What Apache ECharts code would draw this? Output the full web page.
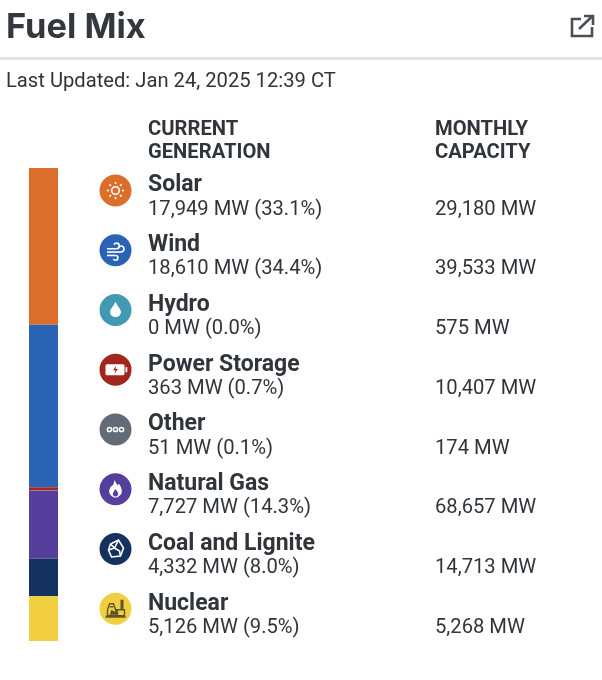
<!DOCTYPE html>
<html><head><meta charset="utf-8">
<style>html,body{margin:0;padding:0;background:#fff}#c{width:602px;height:680px}</style>
<script src="https://cdn.jsdelivr.net/npm/echarts@6/dist/echarts.min.js"></script>
</head><body><div id="c"></div>
<script>
const fuels=['Solar','Wind','Hydro','Power Storage','Other','Natural Gas','Coal and Lignite','Nuclear'];
const generation=[17949,18610,0,363,51,7727,4332,5126];
const percents=['33.1','34.4','0.0','0.7','0.1','14.3','8.0','9.5'];
const capacity=[29180,39533,575,10407,174,68657,14713,5268];
const colors=['#DB6E2A','#2A62B4','#4398B2','#A3261E','#626B76','#563F9C','#15315F','#F2CF40'];
const titleText='Fuel Mix';
const updatedText='Last Updated: Jan 24, 2025 12:39 CT';
const header1=['CURRENT','GENERATION'];
const header2=['MONTHLY','CAPACITY'];

const FONT='Roboto, sans-serif', DARK='#30353b';
const fmt=n=>n.toLocaleString('en-US');
const rowY=i=>190.5+i*59.75;
const g=[];
const txt=(x,y,t,size,weight,fill,font)=>g.push({type:'text',x,y,silent:true,style:{text:t,font:`${weight} ${size}px ${font||FONT}`,fill:fill||DARK,textVerticalAlign:'middle'}});

txt(6,27.5,titleText,34.4,700,'#33383e','Inter, sans-serif');
g.push({type:'rect',shape:{x:0,y:57,width:602,height:3},style:{fill:'#e3e3e3'},silent:true});
txt(6,82,updatedText,20.2,400);
txt(148,130,header1[0],20.2,700);txt(148,153,header1[1],20.2,700);
txt(435,130,header2[0],20.2,700);txt(435,153,header2[1],20.2,700);

// external-link icon
const S={stroke:'#4a4f55',lineWidth:2.6,fill:'none'};
g.push({type:'polyline',shape:{points:[[581,19],[572,19],[572,36],[592,36],[592,27]]},style:S,silent:true});
g.push({type:'line',shape:{x1:579,y1:29,x2:592,y2:16.5},style:S,silent:true});
g.push({type:'polyline',shape:{points:[[584,16],[593,16],[593,25]]},style:S,silent:true});

// icon glyphs in local coordinates around the disc centre
const W={stroke:'#fff',lineWidth:1.6,fill:'none'};
const ln=(x1,y1,x2,y2,style)=>({type:'line',shape:{x1,y1,x2,y2},style});
const arc=(cx,cy,r,startAngle,endAngle,clockwise,style)=>({type:'arc',shape:{cx,cy,r,startAngle,endAngle,clockwise},style});
const PI=Math.PI;
const glyphs=[
 ()=>{const a=[{type:'circle',shape:{cx:0,cy:0,r:3.8},style:W}];
  for(let k=0;k<8;k++){const t=k*PI/4;a.push(ln(6.4*Math.cos(t),6.4*Math.sin(t),8.6*Math.cos(t),8.6*Math.sin(t),W));}return a;},
 ()=>[ln(-8.5,-1.5,1,-1.5,W),arc(1,-4.3,2.8,PI/2,-PI*0.85,false,W),
      ln(-8.5,1.8,5.5,1.8,W),arc(5.5,-1.2,3,PI/2,-PI*0.85,false,W),
      ln(-8.5,5.2,0,5.2,W),arc(0,7.6,2.4,-PI/2,PI*0.85,true,W)],
 ()=>[{type:'polygon',shape:{points:[[0,-8],[2,-4.6],[4.2,-1.5],[5.4,1.4],[5,4],[3.4,6],[0,7.2],[-3.4,6],[-5,4],[-5.4,1.4],[-4.2,-1.5],[-2,-4.6]],smooth:0.25},style:{fill:'#fff'}}],
 ()=>[{type:'rect',shape:{x:-10,y:-5.5,width:19,height:11,r:1.5},style:{fill:'#fff'}},
      {type:'rect',shape:{x:10,y:-2.5,width:1.8,height:5},style:{fill:'#fff'}},
      {type:'polygon',shape:{points:[[0.8,-4],[-2.4,0.6],[-0.2,0.6],[-1,4],[2.4,-0.8],[0.2,-0.8]]},style:{fill:colors[3]}}],
 ()=>[-6,0,6].map(cx=>({type:'circle',shape:{cx,cy:0,r:2.1},style:{stroke:'#fff',lineWidth:1.5,fill:'none'}})),
 ()=>[{type:'polygon',shape:{points:[[-1,-9],[1,-5.5],[2,-4],[3.4,-5.6],[5.6,-1.6],[6.4,2],[5.2,5.6],[2,8],[-2,8],[-5.2,5.6],[-6.4,2],[-5,-2],[-2,-5]],smooth:0.2},style:{fill:'#fff'}},
      {type:'polygon',shape:{points:[[0,0],[1.8,2.4],[2.8,4.4],[2,6.4],[0,7.2],[-2,6.4],[-2.8,4.4],[-1.8,2.4]],smooth:0.2},style:{fill:colors[5]}}],
 ()=>[{type:'polygon',shape:{points:[[-5,-5],[3,-9],[8,-1],[5,7],[-4,8],[-7,1]]},style:W},
      {type:'polyline',shape:{points:[[-5,-5],[-1,-1],[3,-9]]},style:W},
      {type:'polyline',shape:{points:[[-1,-1],[-7,1]]},style:W},
      {type:'polyline',shape:{points:[[-1,-1],[4,2],[5,7]]},style:W}],
 ()=>{const N={stroke:'#5f5526',lineWidth:1.4,fill:'none'};const F={fill:'#5f5526'};return[
      {type:'polygon',shape:{points:[[-8,7],[-8,1],[-6,-5],[-2,-5],[0,1],[1,7]]},style:N},
      ln(-6,-2,-2,-2,N),
      {type:'rect',shape:{x:1,y:1,width:8,height:6},style:N},
      {type:'rect',shape:{x:5,y:-9,width:3,height:10},style:F},
      {type:'rect',shape:{x:-10,y:7,width:20,height:2},style:F},
      {type:'polygon',shape:{points:[[-6,6],[-4,1],[-1,3],[2,1],[3,6]]},style:F}];}
];

fuels.forEach((name,i)=>{
  const y=rowY(i);
  g.push({type:'group',x:115.5,y,silent:true,children:[{type:'circle',shape:{cx:0,cy:0,r:16},style:{fill:colors[i]}},...glyphs[i]()]});
  txt(148,y-5,name,23,700);
  txt(148,y+19,`${fmt(generation[i])} MW (${percents[i]}%)`,20.2,400);
  txt(435,y+19,`${fmt(capacity[i])} MW`,20.2,400);
});

const chart=echarts.init(document.getElementById('c'),null,{renderer:'canvas'});
chart.setOption({
  animation:false,
  backgroundColor:'#fff',
  grid:{left:29,top:168,width:29,height:473},
  xAxis:{type:'category',data:['mix'],show:false},
  yAxis:{type:'value',inverse:true,min:0,max:generation.reduce((a,b)=>a+b,0),show:false},
  series:fuels.map((name,i)=>({name,type:'bar',stack:'mix',barWidth:'100%',data:[generation[i]],itemStyle:{color:colors[i]},silent:true})),
  graphic:{elements:g}
});
</script></body></html>
